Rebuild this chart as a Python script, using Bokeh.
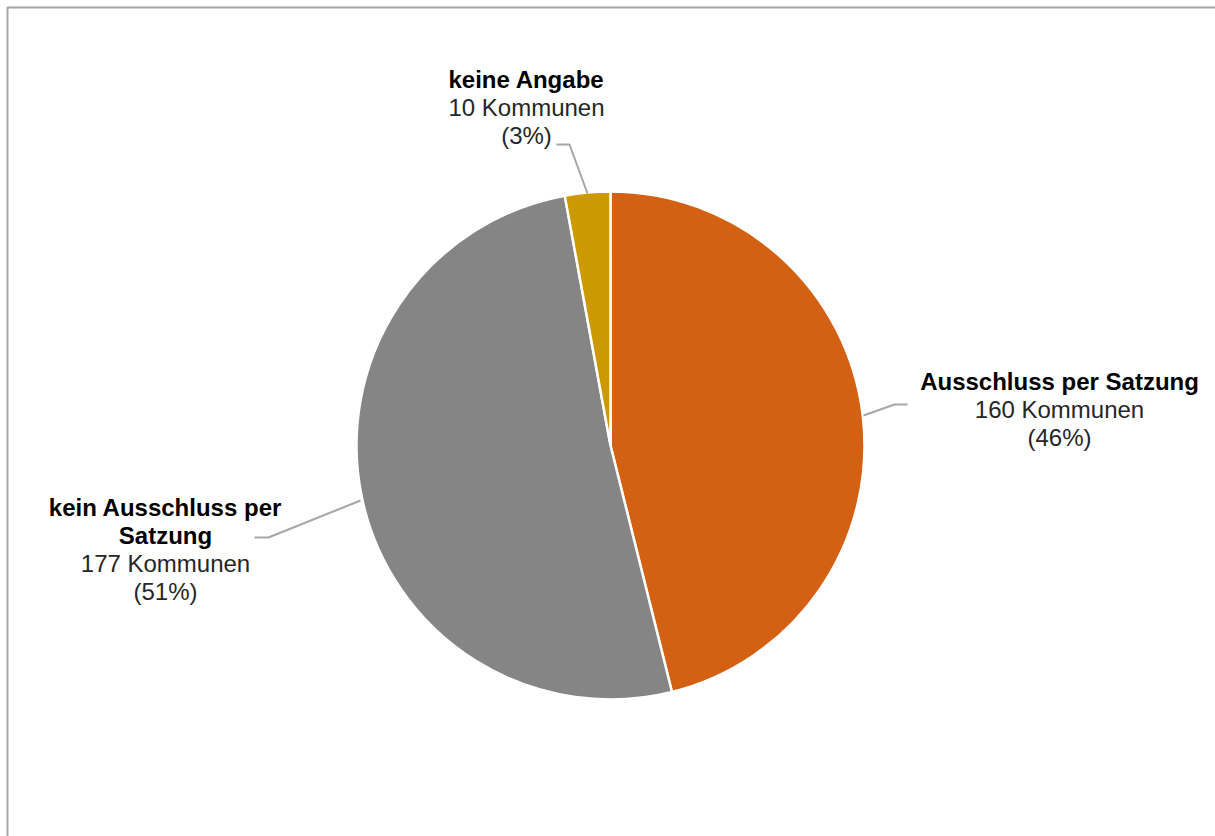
import math
from bokeh.plotting import figure
from bokeh.models import ColumnDataSource
from bokeh.core.properties import value
from bokeh.embed import file_html
from bokeh.resources import INLINE

# ---- data ----
categories = ["Ausschluss per Satzung", "kein Ausschluss per Satzung", "keine Angabe"]
counts = [160, 177, 10]
colors = ["#D46013", "#858585", "#CC9900"]

W, H = 1215, 836
total = sum(counts)

p = figure(width=W, height=H, x_range=(0, W), y_range=(0, H),
           min_border=0, outline_line_color=None, toolbar_location=None,
           output_backend="svg", background_fill_color="white",
           border_fill_color="white")
p.axis.visible = False
p.xgrid.visible = False
p.ygrid.visible = False

# frame lines (top and left visible)
p.line([7, 7, W], [0, H - 7, H - 7], line_color="#A6A6A6", line_width=2)

# pie
cx, cy, r = 610, H - 445, 254
starts, ends = [], []
cum = 0
for c in counts:
    a0 = math.pi / 2 - 2 * math.pi * (cum + c) / total
    a1 = math.pi / 2 - 2 * math.pi * cum / total
    starts.append(a0)
    ends.append(a1)
    cum += c
src = ColumnDataSource(dict(start=starts, end=ends, color=colors, cat=categories))
p.wedge(x=cx, y=cy, radius=r, start_angle="start", end_angle="end",
        fill_color="color", line_color="white", line_width=2.5, source=src)

# leader lines (screen coords -> data y)
def leader(xs, ys):
    p.line(xs, [H - y for y in ys], line_color="#A6A6A6", line_width=2)

leader([863, 894, 907], [415, 404, 404])
leader([360, 268, 254], [500, 537, 537])
leader([556, 569, 587], [144, 144, 193])

pct = [round(100 * c / total) for c in counts]
labels = [
    (1059, 381, ["Ausschluss per Satzung"], counts[0], pct[0]),
    (165, 507, ["kein Ausschluss per", "Satzung"], counts[1], pct[1]),
    (526, 79, ["keine Angabe"], counts[2], pct[2]),
]
FS = "24px"
LH = 28
for x, y, title_lines, n, pc in labels:
    yy = y
    for t in title_lines:
        p.text([x], [H - yy], text=[t], text_font=value("Liberation Sans"),
               text_font_style="bold", text_font_size=FS, text_color="black",
               text_align="center", text_baseline="middle")
        yy += LH
    p.text([x], [H - yy], text=[f"{n} Kommunen"], text_font=value("Liberation Sans"),
           text_font_size=FS, text_color="#262626",
           text_align="center", text_baseline="middle")
    yy += LH
    p.text([x], [H - yy], text=[f"({pc}%)"], text_font=value("Liberation Sans"),
           text_font_size=FS, text_color="#262626",
           text_align="center", text_baseline="middle")

open("out.html", "w").write(file_html(p, INLINE))
